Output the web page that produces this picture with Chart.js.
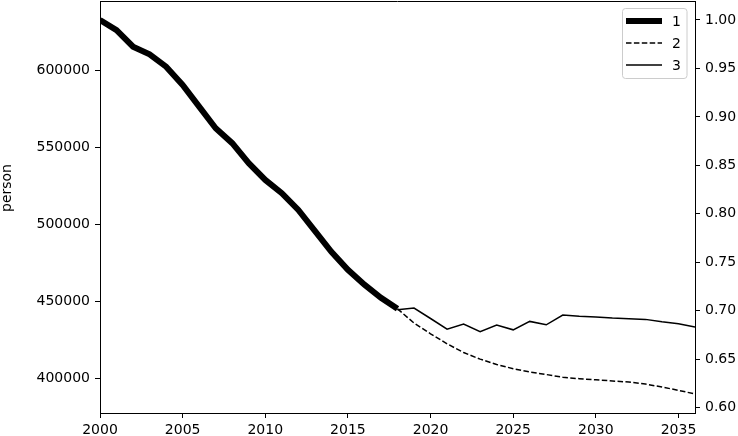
<!DOCTYPE html>
<html>
<head>
<meta charset="utf-8">
<script src="https://cdn.jsdelivr.net/npm/chart.js@4.4.1/dist/chart.umd.min.js"></script>
<style>
  body { margin: 0; background: #fff; }
  #wrap { width: 738px; height: 436px; }
</style>
</head>
<body>
<div id="wrap"><canvas id="chart"></canvas></div>
<script>
// 実績（2000-2018）
var yearsActual = [2000, 2001, 2002, 2003, 2004, 2005, 2006, 2007, 2008, 2009,
  2010, 2011, 2012, 2013, 2014, 2015, 2016, 2017, 2018];
var series1 = [632900, 626400, 615600, 610600, 602600, 590700, 576600, 562600, 552900, 539900,
  529000, 520400, 509500, 495900, 482300, 470600, 460900, 452400, 445200];

// 予測（2018-2036）
var yearsForecast = [2018, 2019, 2020, 2021, 2022, 2023, 2024, 2025, 2026, 2027,
  2028, 2029, 2030, 2031, 2032, 2033, 2034, 2035, 2036];
var series2 = [445200, 436000, 429000, 422500, 416800, 412500, 409000, 406300, 404200, 402500,
  400700, 399800, 399100, 398300, 397600, 396300, 394400, 392200, 389900];
// 右軸（比率）
var series3 = [0.701, 0.7028, 0.692, 0.681, 0.6862, 0.6783, 0.6852, 0.6803, 0.689, 0.6855,
  0.6955, 0.6942, 0.6935, 0.6924, 0.6917, 0.6911, 0.6886, 0.6865, 0.6831];

var seriesNames = ["1", "2", "3"];

// 目盛り
var xTicks = [2000, 2005, 2010, 2015, 2020, 2025, 2030, 2035];
var yTicks = [400000, 450000, 500000, 550000, 600000];
var y2Ticks = [0.60, 0.65, 0.70, 0.75, 0.80, 0.85, 0.90, 0.95, 1.00];
var yTitle = "person";

function toPoints(xs, ys) {
  return xs.map(function (x, i) { return { x: x, y: ys[i] }; });
}

var FONT = { family: "'DejaVu Sans', sans-serif", size: 14 };

function setTicks(list) {
  return function (s) {
    s.ticks = list.map(function (v) { return { value: v }; });
  };
}

function noPad(dim, size) {
  return function (s) {
    s[dim] = size;
    s.paddingTop = 0;
    s.paddingBottom = 0;
    s.paddingLeft = 0;
    s.paddingRight = 0;
  };
}

// 枠線（上辺）・軸タイトル・凡例を描くプラグイン
var framePlugin = {
  id: 'frame',
  afterDraw: function (chart) {
    var ctx = chart.ctx;
    var a = chart.chartArea;
    ctx.save();
    ctx.strokeStyle = '#000';
    ctx.lineWidth = 1;
    ctx.beginPath();
    ctx.moveTo(a.left, a.top + 0.5);
    ctx.lineTo(a.right, a.top + 0.5);
    ctx.stroke();

    // 縦軸タイトル
    ctx.fillStyle = '#000';
    ctx.font = FONT.size + "px " + FONT.family;
    ctx.translate(7, 188);
    ctx.rotate(-Math.PI / 2);
    ctx.textAlign = 'center';
    ctx.textBaseline = 'middle';
    ctx.fillText(yTitle, 0, 0);
    ctx.setTransform(1, 0, 0, 1, 0, 0);

    // 凡例
    var bx = 622.5, by = 8.5, bw = 64.5, bh = 70;
    ctx.fillStyle = 'rgba(255,255,255,0.8)';
    ctx.strokeStyle = '#cccccc';
    ctx.beginPath();
    ctx.roundRect(bx, by, bw, bh, 3);
    ctx.fill();
    ctx.stroke();

    chart.data.datasets.forEach(function (ds, i) {
      var ly = 21 + i * 22;
      ctx.strokeStyle = '#000';
      ctx.lineWidth = ds.borderWidth;
      ctx.setLineDash(ds.borderDash || []);
      ctx.beginPath();
      ctx.moveTo(626, ly);
      ctx.lineTo(662, ly);
      ctx.stroke();
      ctx.setLineDash([]);
      ctx.fillStyle = '#000';
      ctx.font = FONT.size + "px " + FONT.family;
      ctx.textBaseline = 'middle';
      ctx.textAlign = 'left';
      ctx.fillText(ds.label, 672, ly + 1);
    });
    ctx.restore();
  }
};

var ctx = document.getElementById('chart');
var myChart = new Chart(ctx, {
  type: 'line',
  data: {
    datasets: [
      {
        label: seriesNames[0],
        data: toPoints(yearsActual, series1),
        borderColor: '#000',
        borderWidth: 6,
        yAxisID: 'y',
        pointRadius: 0,
        tension: 0
      },
      {
        label: seriesNames[1],
        data: toPoints(yearsForecast, series2),
        borderColor: '#000',
        borderWidth: 1.5,
        borderDash: [5.5, 2.4],
        yAxisID: 'y',
        pointRadius: 0,
        tension: 0
      },
      {
        label: seriesNames[2],
        data: toPoints(yearsForecast, series3),
        borderColor: '#000',
        borderWidth: 1.5,
        yAxisID: 'y2',
        pointRadius: 0,
        tension: 0
      }
    ]
  },
  options: {
    responsive: true,
    maintainAspectRatio: false,
    animation: false,
    layout: { padding: { top: 1, left: 0, right: 0, bottom: 0 } },
    plugins: {
      legend: { display: false },
      tooltip: { enabled: false }
    },
    scales: {
      x: {
        type: 'linear',
        min: 2000,
        max: 2036,
        afterBuildTicks: setTicks(xTicks),
        afterFit: noPad('height', 23),
        border: { color: '#000', width: 1 },
        grid: { drawOnChartArea: false, tickLength: 5, tickColor: '#000' },
        ticks: {
          color: '#000',
          font: FONT,
          padding: 4,
          maxRotation: 0,
          autoSkip: false,
          callback: function (v) { return String(v); }
        }
      },
      y: {
        position: 'left',
        min: 377500,
        max: 645300,
        afterBuildTicks: setTicks(yTicks),
        afterFit: noPad('width', 100),
        border: { color: '#000', width: 1 },
        grid: { drawOnChartArea: false, tickLength: 5, tickColor: '#000' },
        ticks: {
          color: '#000',
          font: FONT,
          padding: 5,
          autoSkip: false,
          callback: function (v) { return String(v); }
        }
      },
      y2: {
        position: 'right',
        min: 0.5945,
        max: 1.0196,
        afterBuildTicks: setTicks(y2Ticks),
        afterFit: noPad('width', 43),
        border: { color: '#000', width: 1 },
        grid: { drawOnChartArea: false, tickLength: 5, tickColor: '#000' },
        ticks: {
          color: '#000',
          font: FONT,
          padding: 5,
          autoSkip: false,
          callback: function (v) { return v.toFixed(2); }
        }
      }
    }
  },
  plugins: [framePlugin]
});
</script>
</body>
</html>
